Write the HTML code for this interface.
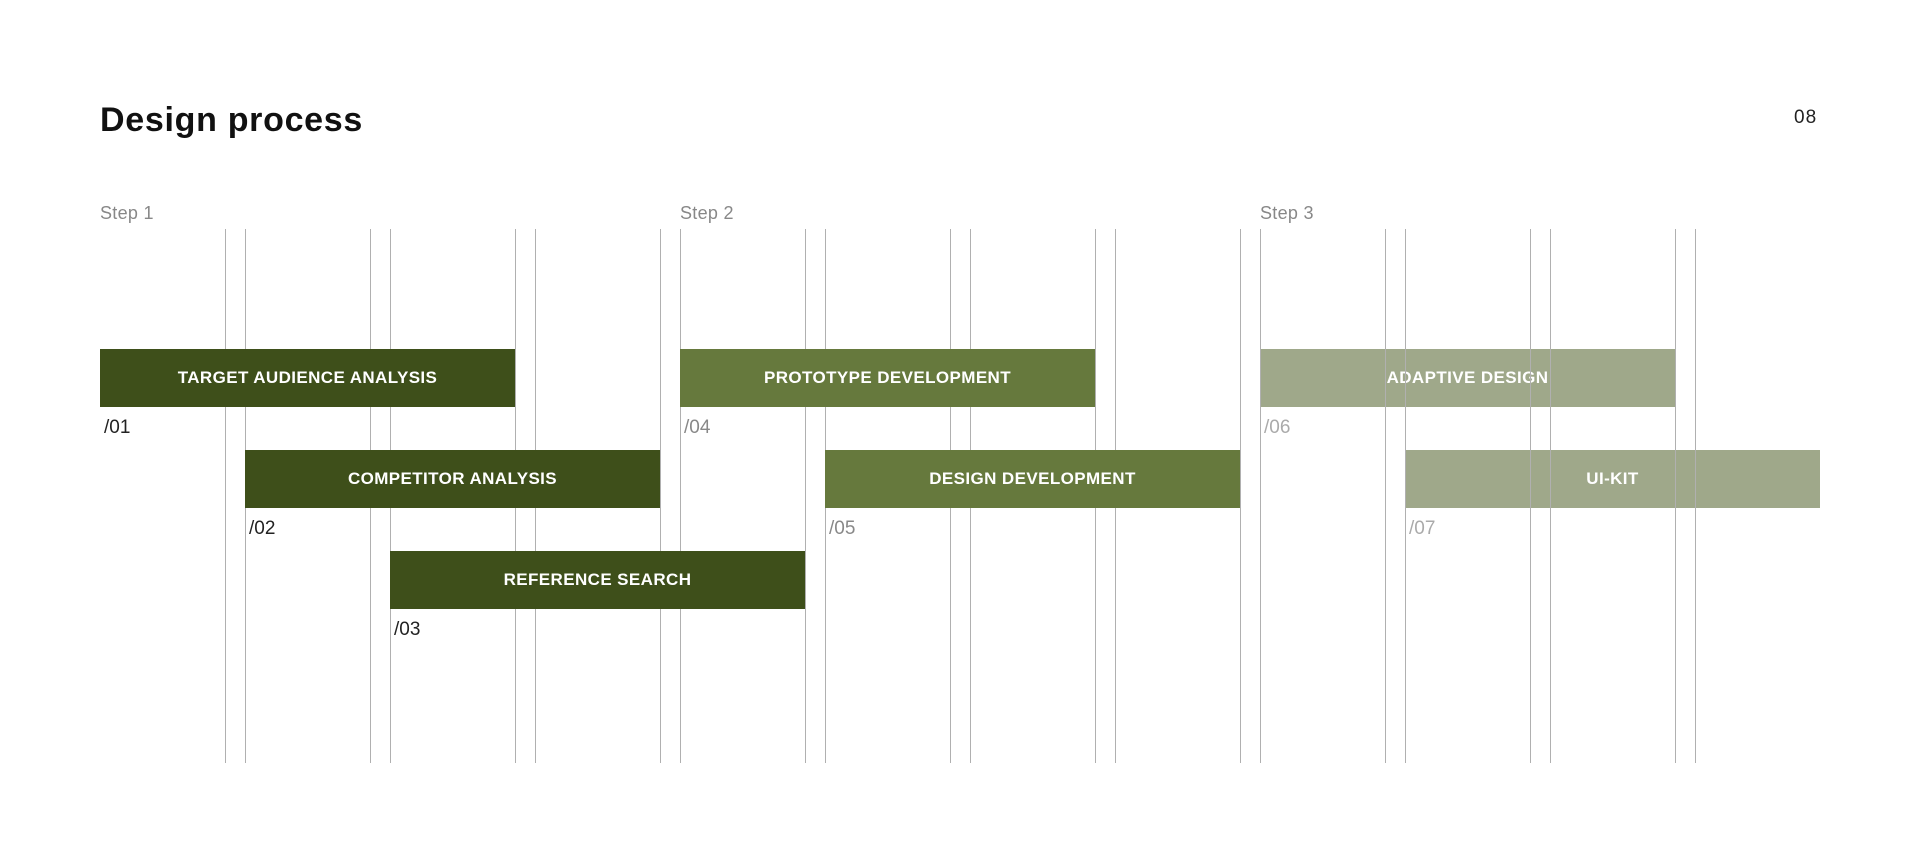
<!DOCTYPE html>
<html><head><meta charset="utf-8"><style>
*{margin:0;padding:0;box-sizing:border-box}
body{width:1920px;height:864px;background:#fff;position:relative;overflow:hidden;font-family:"Liberation Sans",sans-serif}
.a{position:absolute}
.ln{position:absolute;top:229px;height:534px;width:1px;background:#b0b0b0;z-index:2}
.bar{position:absolute;height:58px;width:415px;color:#fff;font-weight:bold;font-size:17px;letter-spacing:0.4px;display:flex;align-items:center;justify-content:center}
.d{background:#3e4f1a;z-index:3}
.m{background:#66793d;z-index:3}
.l{background:#9fa88a;z-index:1}
.l span{position:relative;z-index:4}
.num{position:absolute;font-size:19px}
.step{position:absolute;top:203px;font-size:18px;color:#888;letter-spacing:0.3px}
</style></head><body>
<div class="a" style="left:100px;top:101px;font-size:34px;font-weight:bold;color:#111;letter-spacing:0.7px">Design process</div>
<div class="a" style="left:1794px;top:107px;font-size:19px;color:#222;letter-spacing:1px">08</div>
<div class="step" style="left:100px">Step 1</div>
<div class="step" style="left:680px">Step 2</div>
<div class="step" style="left:1260px">Step 3</div>

<div class="ln" style="left:225px"></div><div class="ln" style="left:245px"></div>
<div class="ln" style="left:370px"></div><div class="ln" style="left:390px"></div>
<div class="ln" style="left:515px"></div><div class="ln" style="left:535px"></div>
<div class="ln" style="left:660px"></div><div class="ln" style="left:680px"></div>
<div class="ln" style="left:805px"></div><div class="ln" style="left:825px"></div>
<div class="ln" style="left:950px"></div><div class="ln" style="left:970px"></div>
<div class="ln" style="left:1095px"></div><div class="ln" style="left:1115px"></div>
<div class="ln" style="left:1240px"></div><div class="ln" style="left:1260px"></div>
<div class="ln" style="left:1385px"></div><div class="ln" style="left:1405px"></div>
<div class="ln" style="left:1530px"></div><div class="ln" style="left:1550px"></div>
<div class="ln" style="left:1675px"></div><div class="ln" style="left:1695px"></div>

<div class="bar d" style="left:100px;top:349px">TARGET AUDIENCE ANALYSIS</div>
<div class="bar d" style="left:245px;top:450px">COMPETITOR ANALYSIS</div>
<div class="bar d" style="left:390px;top:551px">REFERENCE SEARCH</div>
<div class="bar m" style="left:680px;top:349px">PROTOTYPE DEVELOPMENT</div>
<div class="bar m" style="left:825px;top:450px">DESIGN DEVELOPMENT</div>
<div class="bar l" style="left:1260px;top:349px"><span>ADAPTIVE DESIGN</span></div>
<div class="bar l" style="left:1405px;top:450px"><span>UI-KIT</span></div>

<div class="num" style="left:104px;top:417px;color:#222">/01</div>
<div class="num" style="left:249px;top:518px;color:#222">/02</div>
<div class="num" style="left:394px;top:619px;color:#222">/03</div>
<div class="num" style="left:684px;top:417px;color:#888">/04</div>
<div class="num" style="left:829px;top:518px;color:#888">/05</div>
<div class="num" style="left:1264px;top:417px;color:#aaa">/06</div>
<div class="num" style="left:1409px;top:518px;color:#aaa">/07</div>
</body></html>
